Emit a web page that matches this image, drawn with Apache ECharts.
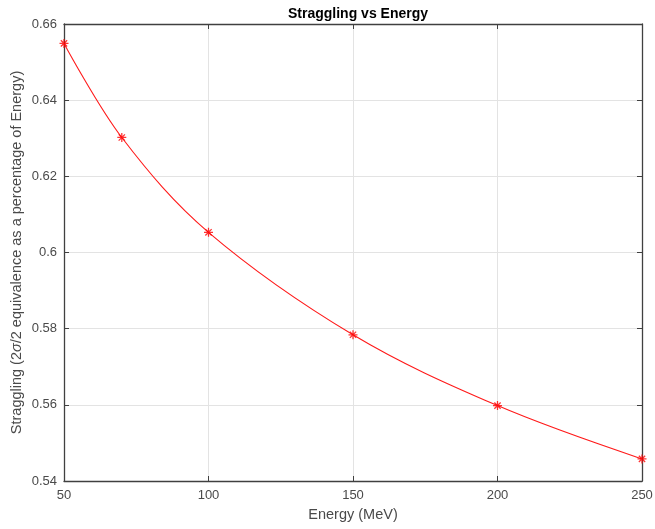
<!DOCTYPE html>
<html>
<head>
<meta charset="utf-8">
<script src="https://cdn.jsdelivr.net/npm/echarts@6/dist/echarts.min.js"></script>
<style>
  html, body { margin: 0; padding: 0; background: #fff; }
  #chart { width: 655px; height: 529px; }
</style>
</head>
<body>
<div id="chart"></div>
<script>
// Measured straggling at each beam energy
const energy = [50, 70, 100, 150, 200, 250];
const straggling = [0.6549, 0.6302, 0.6053, 0.5784, 0.5598, 0.5458];

// Axis ranges and ticks
const xTicks = { min: 50, max: 250, step: 50 };
const yTicks = { min: 0.54, max: 0.66, step: 0.02 };

const points = energy.map((e, i) => [e, straggling[i]]);

// Asterisk marker built from four thin bars (+ and x)
const asterisk = 'path://M0 4.3 L10 4.3 L10 5.7 L0 5.7 Z ' +
  'M4.3 0 L5.7 0 L5.7 10 L4.3 10 Z ' +
  'M1.0 2.0 L2.0 1.0 L9.0 8.0 L8.0 9.0 Z ' +
  'M8.0 1.0 L9.0 2.0 L2.0 9.0 L1.0 8.0 Z';

const axisColor = '#404040';
const labelColor = '#4a4a4a';
const font = '"Liberation Sans", Arial, Helvetica, sans-serif';

const baseX = {
  type: 'value', min: xTicks.min, max: xTicks.max, interval: xTicks.step,
  axisLine: { show: true, onZero: false, lineStyle: { color: axisColor, width: 1.3 } },
  axisTick: { show: true, inside: true, length: 5, lineStyle: { color: axisColor } },
};
const baseY = {
  type: 'value', min: yTicks.min, max: yTicks.max, interval: yTicks.step,
  axisLine: { show: true, onZero: false, lineStyle: { color: axisColor, width: 1.3 } },
  axisTick: { show: true, inside: true, length: 5, lineStyle: { color: axisColor } },
};

const chart = echarts.init(document.getElementById('chart'), null, { renderer: 'canvas' });
chart.setOption({
  animation: false,
  backgroundColor: '#fff',
  title: {
    text: 'Straggling vs Energy',
    left: 353, top: 2, textAlign: 'center',
    textStyle: { fontFamily: font, fontWeight: 'bold', fontSize: 14, color: '#000' }
  },
  grid: {
    left: 64, right: 13, top: 24, bottom: 48,
    containLabel: false, outerBoundsMode: 'none'
  },
  xAxis: [
    Object.assign({}, baseX, {
      position: 'bottom',
      name: 'Energy (MeV)', nameLocation: 'middle', nameGap: 26, nameMoveOverlap: false,
      nameTextStyle: { fontFamily: font, fontSize: 14.5, color: labelColor },
      axisLabel: { margin: 8, fontFamily: font, fontSize: 13, color: labelColor },
      splitLine: { show: true, lineStyle: { color: '#e3e3e3', width: 1 } }
    }),
    Object.assign({}, baseX, {
      position: 'top', axisLabel: { show: false }, splitLine: { show: false }
    })
  ],
  yAxis: [
    Object.assign({}, baseY, {
      position: 'left',
      name: 'Straggling (2{i|σ}/2 equivalence as a percentage of Energy)',
      nameLocation: 'middle', nameGap: 40, nameMoveOverlap: false,
      nameTextStyle: {
        fontFamily: font, fontSize: 14.5, color: labelColor,
        rich: { i: { fontFamily: font, fontSize: 14.5, fontStyle: 'italic', color: labelColor } }
      },
      axisLabel: {
        margin: 7, fontFamily: font, fontSize: 13, color: labelColor,
        formatter: v => String(+v.toFixed(2))
      },
      splitLine: { show: true, lineStyle: { color: '#e3e3e3', width: 1 } }
    }),
    Object.assign({}, baseY, {
      position: 'right', axisLabel: { show: false }, splitLine: { show: false }
    })
  ],
  series: [
    {
      name: 'fit', type: 'line', data: points,
      xAxisIndex: 0, yAxisIndex: 0,
      smooth: 0.35,
      showSymbol: false, symbol: 'none',
      lineStyle: { color: '#ff1a1a', width: 1.1 },
      z: 3
    },
    {
      name: 'data', type: 'scatter', data: points,
      xAxisIndex: 0, yAxisIndex: 0,
      symbol: asterisk, symbolSize: 9,
      itemStyle: { color: '#ff0000' },
      z: 4
    }
  ]
});
</script>
</body>
</html>
